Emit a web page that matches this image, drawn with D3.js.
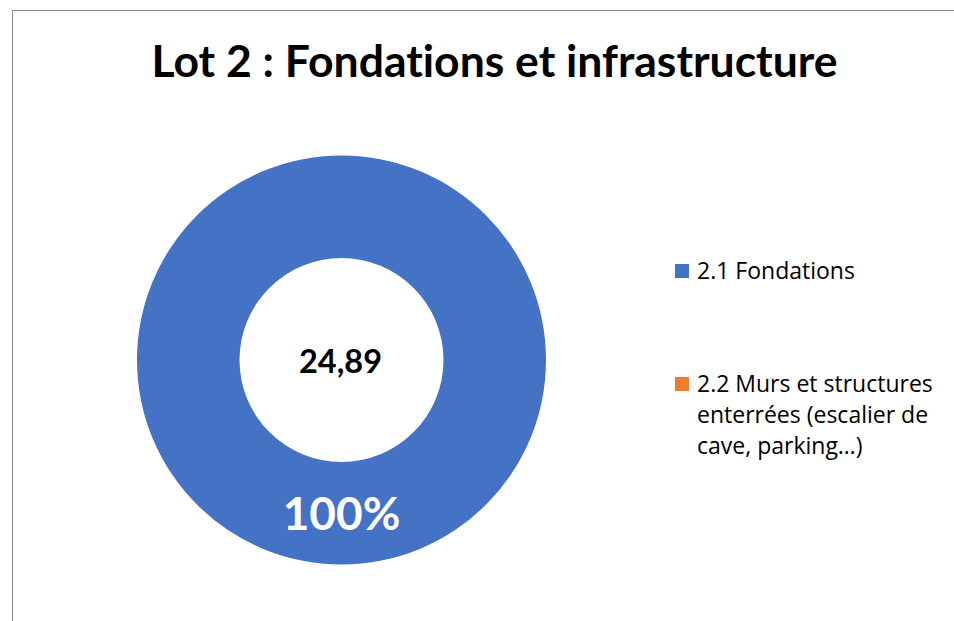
<!DOCTYPE html>
<html>
<head>
<meta charset="utf-8">
<script src="https://cdn.jsdelivr.net/npm/d3@7"></script>
<style>
  html, body { margin: 0; padding: 0; background: #fff; }
  svg { display: block; }
  text { font-variant-ligatures: none; }
</style>
</head>
<body>
<div id="chart"></div>
<script>
// --- Data ---
const title = "Lot 2 : Fondations et infrastructure";
const categories = ["2.1 Fondations", "2.2 Murs et structures enterrées (escalier de cave, parking…)"];
const legendLines = [["2.1 Fondations"], ["2.2 Murs et structures", "enterrées (escalier de", "cave, parking…)"]];
const values = [24.89, 0];
const colors = ["#4472C4", "#ED7D31"];

// --- Sizes ---
const W = 954, H = 621;
const cx = 341.5, cy = 360;
const outerR = 204.5, innerR = 102;
const font = "Lato, 'Open Sans', sans-serif";
const legendFont = "'Open Sans', Lato, sans-serif";

const fr = d3.formatLocale({ decimal: ",", thousands: " ", grouping: [3], currency: ["", " €"] });
const fmtTotal = fr.format(".2f");
const fmtPct = d3.format(".0%");

const svg = d3.select("#chart")
  .append("svg")
  .attr("width", W)
  .attr("height", H);

// --- Chart frame (extends past right/bottom edges) ---
svg.append("rect")
  .attr("x", 12.5)
  .attr("y", 10.5)
  .attr("width", 1000)
  .attr("height", 700)
  .attr("fill", "none")
  .attr("stroke", "#8c8c8c")
  .attr("stroke-width", 1);

// --- Title ---
svg.append("text")
  .text(title)
  .attr("x", 494.5)
  .attr("y", 77)
  .attr("text-anchor", "middle")
  .style("font-family", font)
  .style("font-weight", "bold")
  .style("font-size", "44.5px")
  .attr("fill", "#000");

// --- Donut ---
const total = d3.sum(values);
const pie = d3.pie().sort(null).value(d => d)(values);
const arc = d3.arc().innerRadius(innerR).outerRadius(outerR);

const g = svg.append("g").attr("transform", `translate(${cx},${cy})`);

g.selectAll("path")
  .data(pie)
  .join("path")
  .attr("d", arc)
  .attr("fill", (d, i) => colors[i]);

// --- Slice labels (non-zero slices only) ---
g.selectAll("text.pct")
  .data(pie.filter(d => d.value > 0))
  .join("text")
  .attr("class", "pct")
  .text(d => fmtPct(d.value / total))
  .attr("transform", d => `translate(${arc.centroid(d)})`)
  .attr("text-anchor", "middle")
  .attr("dy", "0.36em")
  .style("font-family", font)
  .style("font-weight", "bold")
  .style("font-size", "46px")
  .attr("fill", "#fff");

// --- Centre total ---
g.append("text")
  .text(fmtTotal(total))
  .attr("x", -1)
  .attr("y", 1.5)
  .attr("dy", "0.36em")
  .attr("text-anchor", "middle")
  .style("font-family", font)
  .style("font-weight", "bold")
  .style("font-size", "32.5px")
  .attr("fill", "#000");

// --- Legend ---
const legendX = 675;
const legendY = [264, 377];
const lineH = 31;

const item = svg.selectAll("g.legend")
  .data(categories)
  .join("g")
  .attr("class", "legend")
  .attr("transform", (d, i) => `translate(${legendX}, ${legendY[i]})`);

item.append("rect")
  .attr("width", 14)
  .attr("height", 14)
  .attr("fill", (d, i) => colors[i]);

item.append("text")
  .attr("x", 22)
  .attr("y", 15)
  .style("font-family", legendFont)
  .style("font-size", "23px")
  .attr("fill", "#000")
  .selectAll("tspan")
  .data((d, i) => legendLines[i])
  .join("tspan")
  .attr("x", 22)
  .attr("dy", (d, j) => j === 0 ? 0 : lineH)
  .text(d => d);
</script>
</body>
</html>
